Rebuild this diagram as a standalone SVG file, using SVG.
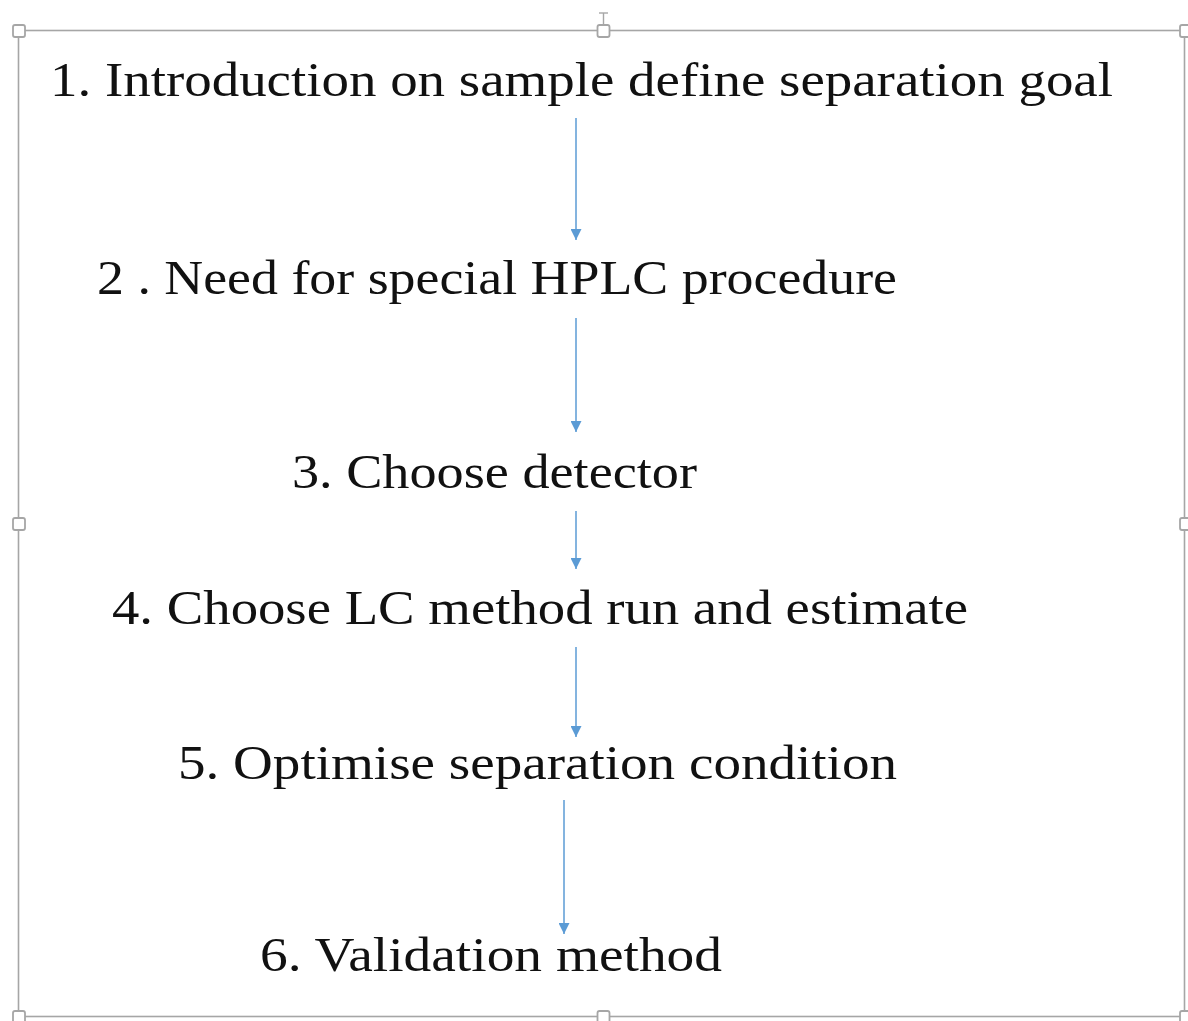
<svg xmlns="http://www.w3.org/2000/svg" width="1188" height="1021" viewBox="0 0 1188 1021">
<style>
.t{font-family:"Liberation Serif","DejaVu Serif",serif;font-size:48px;fill:#111}
.frame{fill:none;stroke:#a6a6a6;stroke-width:1.6}
.h{fill:#fff;stroke:#a6a6a6;stroke-width:1.8}
.c{stroke:#5b9bd5;stroke-width:1.5;fill:none}
</style>
<defs>
<marker id="ah" markerWidth="11" markerHeight="11" refX="10" refY="5" orient="auto" markerUnits="userSpaceOnUse" viewBox="0 0 10 10">
<path d="M0,0 L10,5 L0,10 Z" fill="#5b9bd5"/>
</marker>
</defs>
<g id="frame">
<rect class="frame" x="18.5" y="30.5" width="1166" height="986"/>
<line x1="603.5" y1="13" x2="603.5" y2="25" stroke="#a6a6a6" stroke-width="1.4"/>
<line x1="599" y1="13" x2="608" y2="13" stroke="#a6a6a6" stroke-width="1.4"/>
<rect class="h" x="13" y="25" width="12" height="12" rx="2"/>
<rect class="h" x="597.5" y="25" width="12" height="12" rx="2"/>
<rect class="h" x="1180" y="25" width="12" height="12" rx="2"/>
<rect class="h" x="13" y="518" width="12" height="12" rx="2"/>
<rect class="h" x="1180" y="518" width="12" height="12" rx="2"/>
<rect class="h" x="13" y="1011" width="12" height="12" rx="2"/>
<rect class="h" x="597.5" y="1011" width="12" height="12" rx="2"/>
<rect class="h" x="1180" y="1011" width="12" height="12" rx="2"/>
</g>
<g id="connectors">
<line class="c" x1="576" y1="118" x2="576" y2="240" marker-end="url(#ah)"/>
<line class="c" x1="576" y1="318" x2="576" y2="432" marker-end="url(#ah)"/>
<line class="c" x1="576" y1="511" x2="576" y2="569" marker-end="url(#ah)"/>
<line class="c" x1="576" y1="647" x2="576" y2="737" marker-end="url(#ah)"/>
<line class="c" x1="564" y1="800" x2="564" y2="934" marker-end="url(#ah)"/>
</g>
<g id="n1"><text class="t" x="50" y="96" textLength="1063" lengthAdjust="spacingAndGlyphs">1. Introduction on sample define separation goal</text></g>
<g id="n2"><text class="t" x="97" y="294" textLength="800" lengthAdjust="spacingAndGlyphs">2 . Need for special HPLC procedure</text></g>
<g id="n3"><text class="t" x="292" y="488" textLength="405" lengthAdjust="spacingAndGlyphs">3. Choose detector</text></g>
<g id="n4"><text class="t" x="112" y="624" textLength="856" lengthAdjust="spacingAndGlyphs">4. Choose LC method run and estimate</text></g>
<g id="n5"><text class="t" x="178" y="779" textLength="719" lengthAdjust="spacingAndGlyphs">5. Optimise separation condition</text></g>
<g id="n6"><text class="t" x="260" y="971" textLength="462" lengthAdjust="spacingAndGlyphs">6. Validation method</text></g>
</svg>
